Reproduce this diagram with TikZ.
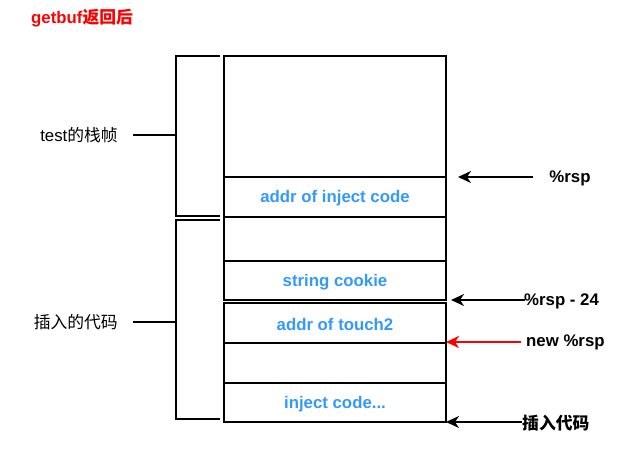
\documentclass[tikz,border=0pt]{standalone}
\usepackage{fontspec}
\setmainfont{Liberation Sans}
\newfontfamily\cjk{Noto Sans CJK SC}
\usetikzlibrary{arrows.meta}
\definecolor{cellblue}{RGB}{51,153,255}
\tikzset{
  cell/.style={draw, line width=2pt, inner sep=0pt, minimum width=222pt,
    text=cellblue, font=\bfseries\fontsize{16.8}{19}\selectfont},
  celltext/.style={yshift=-1.5pt},
  lbl/.style={inner sep=0pt, font=\fontsize{16.8}{19}\selectfont},
  blbl/.style={inner sep=0pt, font=\bfseries\fontsize{16.8}{19}\selectfont},
  brace/.style={line width=2pt},
  arr/.style={line width=2pt, -{Stealth[length=13pt,width=12pt,inset=4pt]}},
}
\begin{document}
\begin{tikzpicture}[x=1pt,y=-1pt]
\useasboundingbox (0,0) rectangle (640,451);
% title
\node[blbl, text=red, anchor=west] (title) at (31,18) {getbuf{\cjk 返回后}};
% stack cells
\node[cell, minimum height=121pt] (top) at (335,116.5) {};
\node[cell, minimum height=40pt] (inj) at (335,197) {};
\node[cell, minimum height=44pt] (e1) at (335,239) {};
\node[cell, minimum height=39pt] (cookie) at (335,280.5) {};
\node[cell, minimum height=40pt] (touch) at (335,323) {};
\node[cell, minimum height=40pt] (e2) at (335,363) {};
\node[cell, minimum height=39pt] (code) at (335,402.5) {};
\node[cell, draw=none, celltext] (inj-t) at (inj) {addr of inject code};
\node[cell, draw=none, celltext] (cookie-t) at (cookie) {string cookie};
\node[cell, draw=none, celltext] (touch-t) at (touch) {addr of touch2};
\node[cell, draw=none, celltext] (code-t) at (code) {inject code...};
% brackets
\draw[brace] (220,56) -- (176,56) -- (176,216) -- (220,216);
\draw[brace] (220,220) -- (176,220) -- (176,419) -- (220,419);
\coordinate (b1) at (176,135);
\coordinate (b2) at (176,322);
\node[lbl, anchor=east] (l1) at (118,135) {test{\cjk 的栈帧}};
\node[lbl, anchor=east] (l2) at (118,322) {{\cjk 插入的代码}};
\draw[brace] ([xshift=15pt]l1.east) -- (b1);
\draw[brace] ([xshift=15pt]l2.east) -- (b2);
% right arrows
\coordinate (s1) at (533,177);  \coordinate (t1) at (458,177);
\coordinate (s2) at (525,300);  \coordinate (t2) at (451,300);
\coordinate (s3) at (521,342);  \coordinate (t3) at (446,342);
\coordinate (s4) at (522,422);  \coordinate (t4) at (446,422);
\draw[arr] (s1) -- (t1);
\draw[arr] (s2) -- (t2);
\draw[arr, red] (s3) -- (t3);
\draw[arr] (s4) -- (t4);
\node[blbl] (r1) at (570,178) {\%rsp};
\node[blbl, anchor=west] (r2) at (524,301) {\%rsp - 24};
\node[blbl, anchor=west] (r3) at (526,342) {new \%rsp};
\node[blbl, anchor=west] (r4) at (522,423) {{\cjk\bfseries 插入代码}};
\end{tikzpicture}
\end{document}
